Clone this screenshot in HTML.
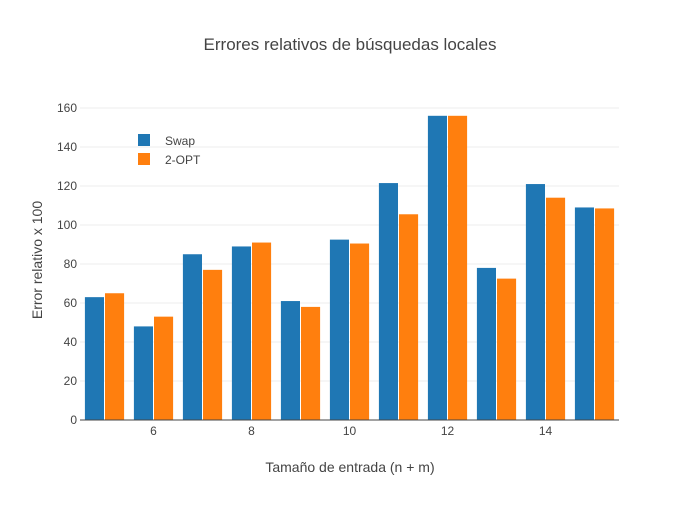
<!DOCTYPE html>
<html><head><meta charset="utf-8"><style>
body{margin:0;background:#fff;font-family:"Liberation Sans",sans-serif}
text{font-family:"Liberation Sans",sans-serif;fill:#444}
</style></head><body>
<svg width="700" height="500" id="svg">
<text x="350" y="50" text-anchor="middle" font-size="17">Errores relativos de búsquedas locales</text>
<g id="grid"></g><g id="bars"></g><g id="axes"></g>
<text x="350" y="472" text-anchor="middle" font-size="14">Tamaño de entrada (n + m)</text>
<text transform="translate(42,260) rotate(-90)" text-anchor="middle" font-size="14">Error relativo x 100</text>
<g>
<g><rect x="138" y="134" width="12" height="12" fill="#1f77b4"/><text x="165" y="145" font-size="12">Swap</text></g>
<g><rect x="138" y="153" width="12" height="12" fill="#ff7f0e"/><text x="165" y="164" font-size="12">2-OPT</text></g>
</g>
</svg>
<script>
const categories=[5,6,7,8,9,10,11,12,13,14,15];
const swapValues=[63,48,85,89,61,92.5,121.5,156,78,121,109];
const optValues=[65,53,77,91,58,90.5,105.5,156,72.5,114,108.5];
const yTicks=[0,20,40,60,80,100,120,140,160];
const xTicks=[6,8,10,12,14];
const NS="http://www.w3.org/2000/svg";
const x0=80,x1=619,y0=420,y1=108;
const xs=v=>x0+(v-4.5)/11*(x1-x0);
const ys=v=>y0-v/160*(y0-y1);
const bw=(x1-x0)/11*0.4;
function mk(t,a,p){const e=document.createElementNS(NS,t);for(const k in a)e.setAttribute(k,a[k]);p.appendChild(e);return e;}
const grid=document.getElementById('grid'),bars=document.getElementById('bars'),axes=document.getElementById('axes');
yTicks.forEach(v=>{
 if(v>0){const l=mk('line',{x1:x0,x2:x1,y1:ys(v),y2:ys(v),stroke:'#eee'},grid);
 
 }
 const t=mk('text',{x:x0-3,y:ys(v)+4,'text-anchor':'end','font-size':12},axes);t.textContent=v;
 
 
});
xTicks.forEach(v=>{
 const t=mk('text',{x:xs(v),y:435,'text-anchor':'middle','font-size':12},axes);t.textContent=v;
 
 
});
const ax=mk('line',{x1:x0,x2:x1,y1:y0,y2:y0,stroke:'#444'},axes);


categories.forEach((c,i)=>{
 const cx=xs(c);
 const a=mk('rect',{x:cx-bw,y:ys(swapValues[i]),width:bw-0.5,height:y0-ys(swapValues[i]),fill:'#1f77b4'},bars);
 
 
 const b=mk('rect',{x:cx+0.5,y:ys(optValues[i]),width:bw-0.5,height:y0-ys(optValues[i]),fill:'#ff7f0e'},bars);
 
 
});
</script>
</body></html>
